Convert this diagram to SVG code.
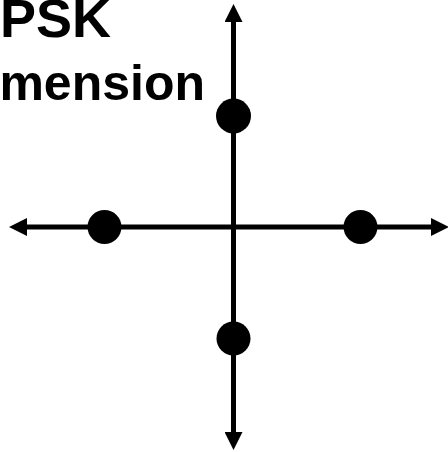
<svg xmlns="http://www.w3.org/2000/svg" width="448" height="452" viewBox="0 0 448 452">
<style>
.t{font-family:"Liberation Sans",Arial,sans-serif;font-weight:bold;fill:#000}
.ax{stroke:#000;stroke-width:5;fill:none}
.pt{fill:#000}
</style>
<defs>
<marker id="ah" viewBox="0 0 18 18" refX="0" refY="9" markerWidth="18" markerHeight="18" markerUnits="userSpaceOnUse" orient="auto">
<path d="M0,0 L18,9 L0,18 Z" fill="#000"/>
</marker>
</defs>
<rect width="448" height="452" fill="#fff"/>
<g id="label">
<text class="t" x="111" y="37" text-anchor="end" font-size="54">QPSK</text>
<text class="t" x="205" y="100" text-anchor="end" font-size="50">Dimension</text>
</g>
<g id="connectors">
<line class="ax" x1="233.5" y1="227" x2="233.5" y2="22" marker-end="url(#ah)"/>
<line class="ax" x1="233.5" y1="227" x2="233.5" y2="432" marker-end="url(#ah)"/>
<line class="ax" x1="233.5" y1="227" x2="27" y2="227" marker-end="url(#ah)"/>
<line class="ax" x1="233.5" y1="227" x2="431" y2="227" marker-end="url(#ah)"/>
</g>
<g id="p-top"><circle class="pt" cx="233.5" cy="116" r="17.5"/></g>
<g id="p-left"><circle class="pt" cx="104.5" cy="227" r="17"/></g>
<g id="p-right"><circle class="pt" cx="360.5" cy="227" r="17"/></g>
<g id="p-bottom"><circle class="pt" cx="233.5" cy="338.5" r="17"/></g>
</svg>
